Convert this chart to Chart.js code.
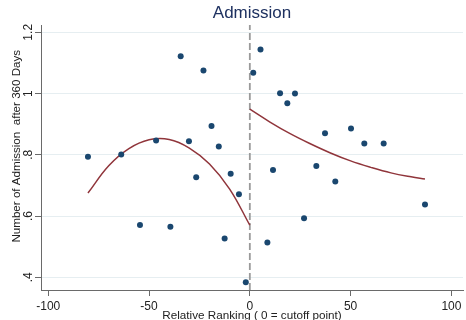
<!DOCTYPE html>
<html>
<head>
<meta charset="utf-8">
<script src="https://cdn.jsdelivr.net/npm/chart.js@4.4.1/dist/chart.umd.min.js"></script>
<style>
  html, body { margin: 0; padding: 0; background: #ffffff; }
  #chart { display: block; }
</style>
</head>
<body>
<canvas id="chart" width="466" height="320"></canvas>
<script>
// Relative ranking of each group and its admissions after 360 days
const rankX = [-80.3, -63.8, -54.5, -46.5, -39.4, -34.3, -30.2, -26.6, -23.0, -19.0,
               -15.4, -12.5, -9.5, -5.4, -2.0,
               1.7, 5.3, 8.7, 11.5, 15.0, 18.6, 22.4, 26.9, 33.0, 37.3,
               42.4, 50.2, 56.8, 66.4, 86.9];
const admissions = [0.794, 0.801, 0.571, 0.847, 0.565, 1.122, 0.844, 0.727, 1.075, 0.894,
                    0.827, 0.527, 0.738, 0.671, 0.384,
                    1.068, 1.144, 0.514, 0.750, 1.001, 0.968, 1.000, 0.593, 0.763, 0.870,
                    0.713, 0.886, 0.837, 0.837, 0.638];

// Quadratic fit below the cutoff
const fitLeftX = [-80.3, -70, -60, -50, -40, -30, -20, -10, 0];
const fitLeftY = [0.675, 0.764, 0.820, 0.849, 0.850, 0.822, 0.770, 0.688, 0.570];

// Quadratic fit above the cutoff
const fitRightX = [0, 10, 20, 30, 40, 50, 60, 70, 80, 86.9];
const fitRightY = [0.949, 0.907, 0.869, 0.836, 0.806, 0.780, 0.759, 0.741, 0.728, 0.721];

// Cutoff point
const cutoff = 0;

// Axis ticks
const xTickValues = [-100, -50, 0, 50, 100];
const xTickLabels = ['-100', '-50', '0', '50', '100'];
const yTickValues = [0.4, 0.6, 0.8, 1.0, 1.2];
const yTickLabels = ['.4', '.6', '.8', '1', '1.2'];

// Axis ranges
const X_MIN = -103.6, X_MAX = 105.76;
const Y_MIN = 0.3585, Y_MAX = 1.2238;

const FONT = "'Liberation Sans', Arial, Helvetica, sans-serif";
const NAVY = '#1a476f';
const MAROON = '#90353b';
const AXIS = '#6a6a6a';
const GRID = '#e6eef1';

const toPoints = (xs, ys) => xs.map((x, i) => ({ x: x, y: ys[i] }));

new Chart(document.getElementById('chart'), {
  type: 'scatter',
  data: {
    datasets: [
      {
        type: 'scatter',
        data: toPoints(rankX, admissions),
        backgroundColor: NAVY,
        borderColor: NAVY,
        borderWidth: 0,
        pointRadius: 3,
        pointHoverRadius: 3
      },
      {
        type: 'line',
        data: toPoints(fitLeftX, fitLeftY),
        borderColor: MAROON,
        borderWidth: 1.5,
        pointRadius: 0,
        tension: 0.4,
        fill: false
      },
      {
        type: 'line',
        data: toPoints(fitRightX, fitRightY),
        borderColor: MAROON,
        borderWidth: 1.5,
        pointRadius: 0,
        tension: 0.4,
        fill: false
      },
      {
        type: 'line',
        data: [{ x: cutoff, y: Y_MIN }, { x: cutoff, y: Y_MAX }],
        borderColor: '#9a9a9a',
        borderWidth: 1.8,
        borderDash: [7, 3],
        pointRadius: 0,
        fill: false
      }
    ]
  },
  options: {
    responsive: false,
    devicePixelRatio: 1,
    animation: false,
    events: [],
    layout: { padding: 0 },
    plugins: {
      legend: { display: false },
      tooltip: { enabled: false },
      title: {
        display: true,
        text: 'Admission',
        fullSize: false,
        color: '#1e3160',
        font: { family: FONT, size: 17, weight: 'normal', lineHeight: 1.2 },
        padding: { top: 2.9, bottom: 1.7 }
      }
    },
    scales: {
      x: {
        type: 'linear',
        position: 'bottom',
        min: X_MIN,
        max: X_MAX,
        afterBuildTicks: (scale) => { scale.ticks = xTickValues.map(v => ({ value: v })); },
        afterFit: (scale) => { scale.height = 30; },
        ticks: {
          color: '#222222',
          font: { family: FONT, size: 12 },
          padding: 3.5,
          maxRotation: 0,
          autoSkip: false,
          callback: (value, index) => xTickLabels[index]
        },
        grid: {
          drawOnChartArea: false,
          drawTicks: true,
          tickLength: 6,
          tickColor: AXIS,
          tickWidth: 1
        },
        border: { display: true, color: AXIS, width: 1 },
        title: {
          display: true,
          text: 'Relative Ranking ( 0 = cutoff point)',
          color: '#222222',
          font: { family: FONT, size: 11.7, lineHeight: 1 },
          padding: { top: 0, bottom: -2 }
        }
      },
      y: {
        type: 'linear',
        position: 'left',
        min: Y_MIN,
        max: Y_MAX,
        afterBuildTicks: (scale) => { scale.ticks = yTickValues.map(v => ({ value: v })); },
        afterFit: (scale) => { scale.width = 41; },
        ticks: {
          color: '#222222',
          font: { family: FONT, size: 12 },
          padding: -2,
          minRotation: 90,
          maxRotation: 90,
          crossAlign: 'center',
          autoSkip: false,
          callback: (value, index) => yTickLabels[index]
        },
        grid: {
          color: GRID,
          lineWidth: 1,
          drawTicks: true,
          tickLength: 6,
          tickColor: AXIS,
          tickWidth: 1
        },
        border: { display: true, color: AXIS, width: 1 },
        title: {
          display: true,
          text: '       Number of Admission  after 360 Days',
          color: '#222222',
          font: { family: FONT, size: 11.6, lineHeight: 1 },
          padding: { top: 10.7, bottom: 0 }
        }
      }
    }
  }
});
</script>
</body>
</html>
